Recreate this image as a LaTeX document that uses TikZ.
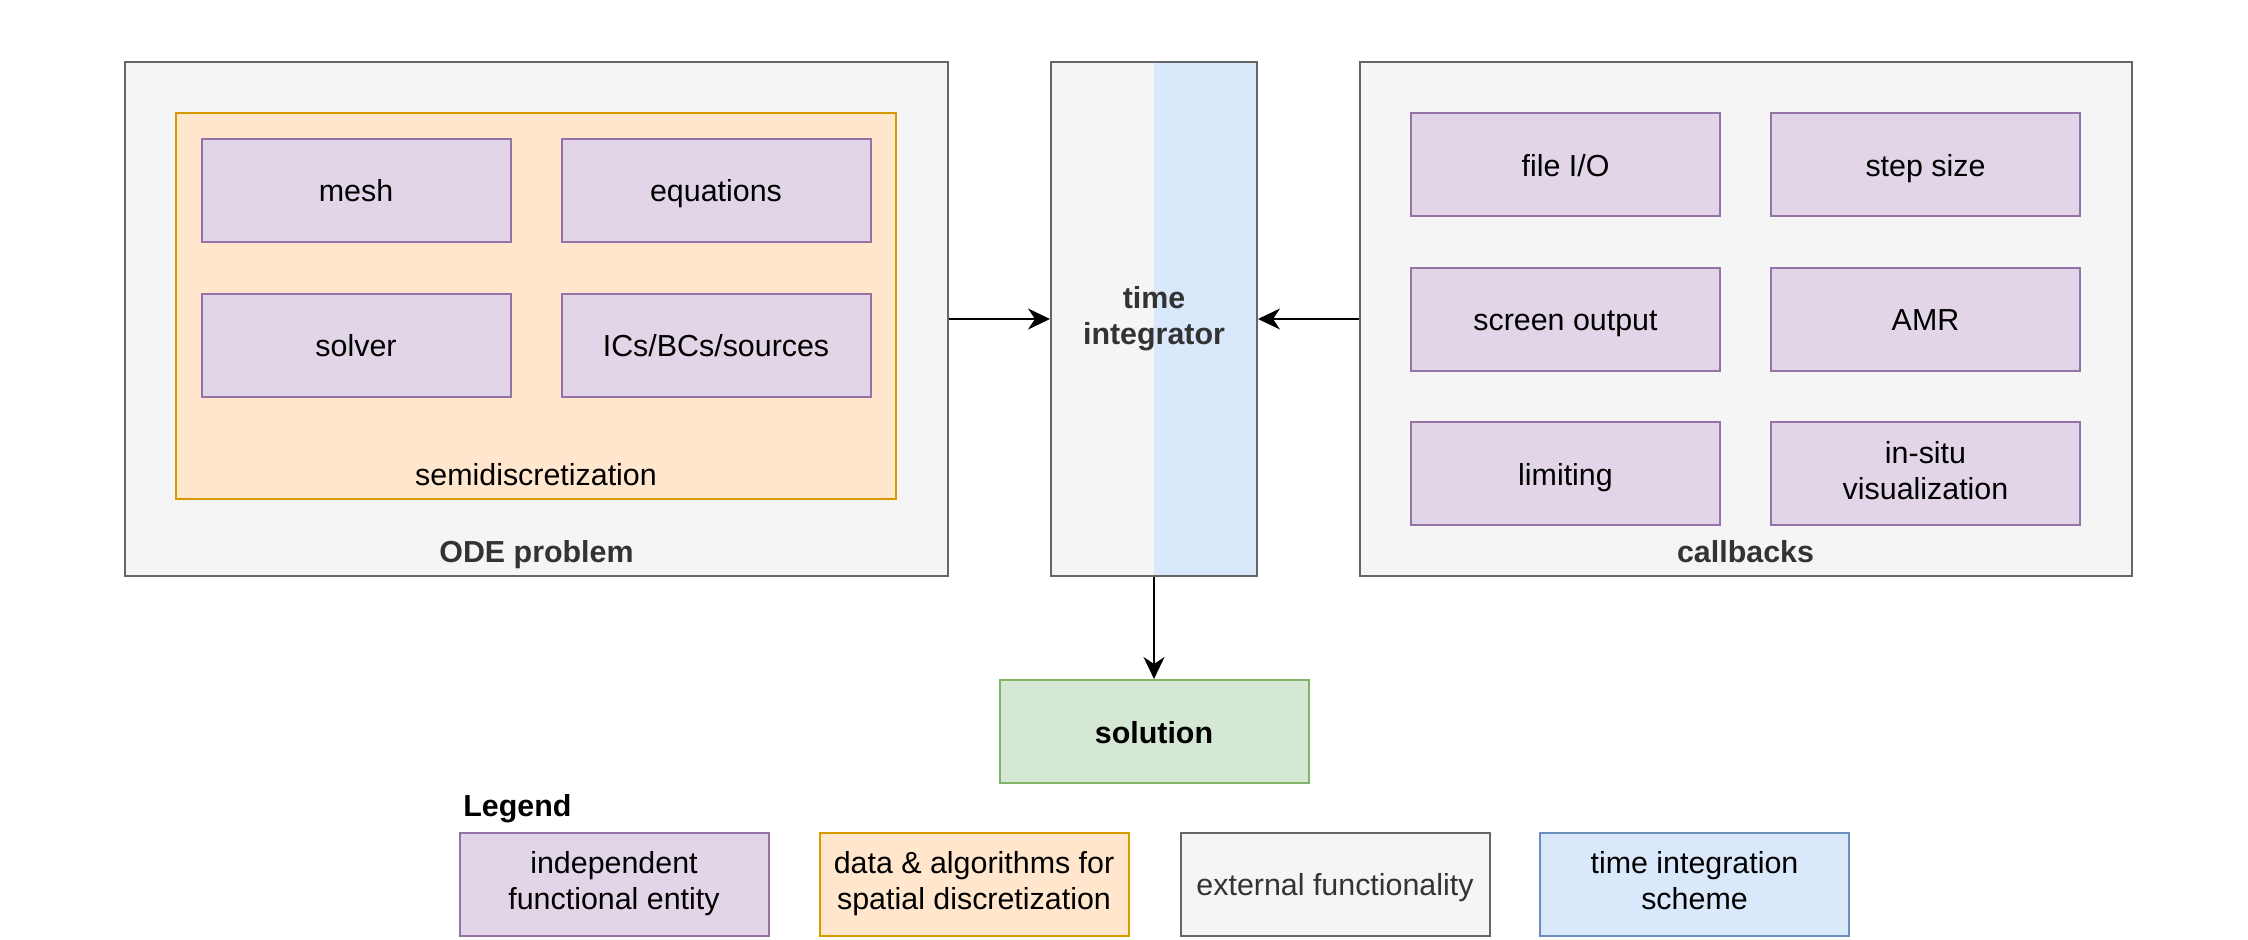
\documentclass[tikz,border=0pt]{standalone}
\usepackage{fontspec}
\setmainfont{Liberation Sans}
\usetikzlibrary{arrows.meta}
\definecolor{entfill}{HTML}{E1D5E7}
\definecolor{entline}{HTML}{9673A6}
\definecolor{spafill}{HTML}{FFE6CC}
\definecolor{spaline}{HTML}{D79B00}
\definecolor{extfill}{HTML}{F5F5F5}
\definecolor{extline}{HTML}{666666}
\definecolor{exttext}{HTML}{333333}
\definecolor{tisfill}{HTML}{DAE8FC}
\definecolor{tisline}{HTML}{6C8EBF}
\definecolor{solfill}{HTML}{D5E8D4}
\definecolor{solline}{HTML}{82B366}
\newcommand{\boxfont}{\fontsize{15.2}{18}\selectfont}
\newcommand{\tstrut}{\rule[-3.25pt]{0pt}{18pt}}
\tikzset{
    base/.style ={
        rectangle,
        minimum width =154.5pt,
        minimum height =51.5pt,
        inner sep=0pt,
        line width=1pt,
        align=center,
        font=\boxfont,
        execute at begin node=\tstrut
    },
    entity/.style ={base, fill=entfill, draw=entline},
    spatial/.style ={base, fill=spafill, draw=spaline},
    external/.style ={base, fill=extfill, draw=extline, text=exttext},
    scheme/.style ={base, fill=tisfill, draw=tisline},
    result/.style ={base, fill=solfill, draw=solline, font=\boxfont\bfseries},
    caption/.style ={font=\boxfont\bfseries, text=exttext, inner sep=0pt, execute at begin node=\tstrut},
    flow/.style ={-{Stealth[length=11pt,width=10.5pt,inset=3.5pt]}, line width=1pt}
}

\begin{document}
\begin{tikzpicture}[x=0.5pt,y=-0.5pt]
        \useasboundingbox (0,0) rectangle (2248,940);
        % ODE problem
        \node[external, minimum width=411.5pt, minimum height=257pt] (ODE) at(536.5,319) {};
        \node[spatial, minimum width=360pt, minimum height=193pt] (SEMI) at(536,306) {};
        \node[entity] (MESH) at(356,190.5) {mesh};
        \node[entity] (EQNS) at(716,190.5) {equations};
        \node[entity] (SOLVER) at(356,345.5) {solver};
        \node[entity] (ICBC) at(716,345.5) {ICs/BCs/sources};
        \node[caption, font=\boxfont, text=black] (SEMILBL) at(536,474) {semidiscretization};
        \node[caption] (ODELBL) at(536.5,550.5) {ODE problem};
        % time integrator
        \node[external, minimum width=103pt, minimum height=257pt, font=\boxfont\bfseries,
            path picture={\fill[tisfill] (path picture bounding box.north) rectangle (path picture bounding box.south east);}]
            (TIME) at(1154,319) {time\\\tstrut integrator};
        % callbacks
        \node[external, minimum width=386pt, minimum height=257pt] (CB) at(1745.5,319) {};
        \node[entity] (FILEIO) at(1565.5,165) {file I/O};
        \node[entity] (STEP) at(1925.5,165) {step size};
        \node[entity] (SCREEN) at(1565.5,319.5) {screen output};
        \node[entity] (AMR) at(1925.5,319.5) {AMR};
        \node[entity] (LIMIT) at(1565.5,474) {limiting};
        \node[entity] (VIS) at(1925.5,474) {in-situ\\\tstrut visualization};
        \node[caption] (CBLBL) at(1745.5,551) {callbacks};
        % solution
        \node[result] (SOL) at(1154,731.5) {solution};
        % legend
        \node[caption, text=black, anchor=west] (LEGEND) at(463,805) {Legend};
        \node[entity] (LGENT) at(614,884) {independent\\\tstrut functional entity};
        \node[spatial] (LGSPA) at(974,884) {data \& algorithms for\\\tstrut spatial discretization};
        \node[external] (LGEXT) at(1335,884) {external functionality};
        \node[scheme] (LGTIS) at(1694.5,884) {time integration\\\tstrut scheme};
        \draw[flow] (ODE)--(TIME);
        \draw[flow] (CB)--(TIME);
        \draw[flow] (TIME)--(SOL);
    \end{tikzpicture}
\end{document}
